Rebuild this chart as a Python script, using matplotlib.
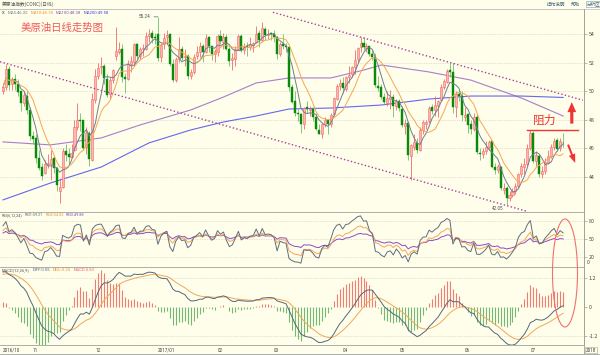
import numpy as np
import pandas as pd
import matplotlib
matplotlib.use('Agg')
import matplotlib.pyplot as plt
from matplotlib.patches import Ellipse

plt.rcParams['font.family'] = ['Noto Sans CJK SC', 'DejaVu Sans']

# ---------------- data (daily candles, Oct 2016 - Jul 2017) ----------------
month_labels = ['2016/10', '11', '12', '2017/01', '02', '03', '04', '05', '06', '07']
month_counts = [10, 21, 21, 20, 19, 23, 19, 22, 22, 12]

open_ = [50.0, 50.3, 51.6, 50.5, 50.9, 50.5, 50.0, 49.2, 49.7, 48.7,
         46.9, 46.7, 45.3, 44.7, 44.3, 44.9, 44.9, 45.3, 44.6, 43.0, 43.3, 45.8, 45.6, 45.4, 45.9, 47.5, 48.0, 48.0, 46.1, 47.1, 45.2,
         49.4, 51.1, 51.7, 51.8, 50.9, 49.8, 50.8, 52.5, 52.8, 53.0, 51.0, 50.9, 51.9, 52.1, 53.3, 52.5, 53.0, 53.0, 53.9, 54.1, 53.8,
         54.0, 52.4, 53.3, 53.8, 54.0, 51.9, 50.8, 52.3, 53.0, 52.4, 52.5, 51.1, 51.4, 52.5, 52.8, 53.2, 52.8, 53.8, 53.2, 52.6,
         52.8, 53.9, 53.5, 53.8, 53.0, 52.2, 52.3, 53.0, 53.9, 52.9, 53.2, 53.1, 53.25, 53.5, 54.1, 53.6, 54.4, 53.95, 54.1,
         54.0, 53.8, 52.6, 53.3, 53.2, 53.1, 50.3, 49.3, 48.5, 48.4, 47.7, 48.9, 48.7, 48.8, 48.2, 47.3, 47.0, 47.7, 48.0, 47.7, 48.4, 49.5, 50.4,
         50.6, 50.2, 51.0, 51.2, 51.7, 52.3, 53.1, 53.4, 53.05, 53.2, 52.6, 52.4, 50.4, 50.3, 49.6, 49.2, 49.5, 49.6, 49.0,
         49.3, 48.8, 47.6, 47.8, 45.5, 46.1, 46.4, 45.9, 47.3, 47.7, 47.9, 48.9, 48.7, 49.0, 49.4, 50.3, 50.7, 51.5, 51.4, 48.9, 49.8, 49.7,
         48.2, 48.4, 47.7, 47.4, 48.2, 45.7, 45.6, 45.8, 46.1, 46.5, 44.7, 44.5, 44.7, 43.1, 43.2, 42.5, 42.7, 43.0, 43.4, 44.2, 44.7, 44.9,
         46.0, 47.1, 45.1, 45.5, 44.2, 44.4, 45.0, 45.5, 46.1, 46.6, 46.0, 46.4]
high = [50.6, 51.9, 51.8, 51.0, 51.2, 50.9, 50.0, 50.0, 50.0, 48.9,
        47.2, 47.0, 45.9, 45.0, 45.2, 45.6, 45.9, 45.5, 44.7, 43.9, 46.0, 46.3, 46.0, 46.3, 48.0, 49.2, 48.5, 48.0, 47.5, 47.2, 49.9,
        51.6, 52.0, 52.4, 51.9, 51.2, 51.0, 51.6, 54.5, 53.5, 53.3, 51.3, 52.2, 52.5, 53.4, 53.4, 53.1, 53.3, 54.2, 54.4, 54.3, 54.1,
        55.24, 53.4, 54.1, 54.3, 54.0, 52.3, 52.4, 53.8, 53.2, 53.0, 52.6, 51.6, 52.6, 53.2, 53.5, 53.3, 54.0, 53.9, 53.2, 53.0,
        54.0, 54.3, 54.1, 54.0, 53.1, 52.7, 53.2, 54.0, 54.0, 53.4, 53.5, 53.8, 53.5, 54.6, 54.3, 54.9, 54.5, 54.4, 54.2,
        54.3, 53.9, 53.5, 54.0, 53.4, 53.2, 50.5, 50.0, 48.8, 48.5, 48.9, 49.3, 49.0, 48.9, 48.5, 47.7, 47.8, 48.2, 48.0, 48.5, 49.6, 50.5, 50.9,
        51.0, 51.1, 51.8, 51.8, 52.9, 53.1, 53.8, 53.8, 53.4, 53.2, 52.9, 52.7, 51.1, 50.5, 49.9, 50.0, 50.1, 49.8, 49.5,
        49.5, 49.0, 48.1, 47.9, 46.3, 47.0, 46.7, 47.5, 48.0, 48.0, 49.0, 49.1, 49.7, 49.4, 50.5, 50.9, 51.6, 52.0, 52.0, 50.0, 50.1, 50.0,
        48.9, 48.5, 48.0, 48.5, 48.4, 46.0, 46.0, 46.5, 46.6, 46.5, 45.0, 44.9, 44.8, 43.6, 43.4, 43.0, 43.2, 43.6, 44.3, 45.0, 45.3, 46.3,
        47.3, 47.2, 45.8, 45.6, 44.8, 45.3, 45.9, 46.3, 46.7, 46.7, 46.7, 47.1]
low = [49.8, 50.1, 50.1, 50.1, 50.1, 49.7, 48.6, 49.0, 48.4, 46.6,
       46.3, 45.0, 44.5, 43.8, 44.2, 44.6, 43.8, 44.3, 43.0, 42.2, 43.2, 45.1, 44.9, 45.3, 45.8, 47.3, 47.2, 45.9, 45.6, 44.8, 45.1,
       49.2, 50.9, 51.2, 50.5, 49.6, 49.5, 50.6, 52.2, 52.6, 50.7, 49.9, 50.8, 51.4, 51.8, 52.3, 52.3, 52.5, 52.9, 53.5, 53.4, 53.3,
       52.11, 52.1, 53.0, 53.3, 51.8, 50.7, 50.7, 52.1, 52.2, 51.8, 50.9, 50.9, 51.2, 52.3, 52.4, 52.1, 52.7, 52.8, 52.2, 52.1,
       52.5, 53.3, 53.0, 52.9, 51.8, 51.5, 51.8, 52.9, 52.8, 52.6, 52.5, 52.9, 52.8, 53.4, 53.1, 53.5, 53.6, 53.7, 53.6,
       53.5, 52.3, 52.5, 53.0, 52.8, 50.0, 49.2, 48.3, 47.9, 47.1, 47.4, 48.5, 48.3, 47.9, 47.3, 47.0, 46.7, 47.5, 47.0, 47.5, 48.3, 49.4, 50.1,
       49.9, 50.0, 50.6, 51.0, 51.2, 52.1, 52.8, 52.9, 52.8, 52.5, 52.2, 50.3, 50.0, 49.5, 49.1, 49.0, 48.8, 48.2, 48.7,
       48.6, 47.5, 47.0, 45.2, 43.8, 45.9, 45.7, 45.8, 47.0, 47.4, 47.8, 48.4, 48.3, 48.2, 49.3, 50.2, 50.6, 51.0, 48.5, 48.2, 49.3, 47.9,
       47.9, 47.1, 47.0, 47.2, 45.6, 45.2, 45.3, 45.6, 45.9, 44.6, 44.2, 44.3, 43.1, 42.8, 42.05, 42.3, 42.6, 42.8, 43.2, 44.0, 44.2, 44.8,
       45.9, 45.0, 44.8, 44.0, 43.9, 44.2, 44.9, 45.3, 45.9, 45.8, 45.8, 46.1]
close = [50.29, 51.60, 50.43, 50.85, 50.52, 49.96, 49.18, 49.72, 48.70, 46.86,
         46.67, 45.34, 44.66, 44.07, 44.89, 44.98, 45.27, 44.66, 43.41, 43.32, 45.81, 45.57, 45.42, 45.69, 47.49, 48.03, 47.96, 46.06, 47.08, 45.23, 49.44,
         51.06, 51.68, 51.79, 50.93, 49.77, 50.84, 51.50, 52.83, 52.98, 51.04, 50.90, 51.90, 52.12, 53.30, 52.49, 52.95, 53.02, 53.90, 54.06, 53.77, 53.72,
         52.33, 53.26, 53.76, 53.99, 51.96, 50.82, 52.25, 53.01, 52.37, 52.48, 51.08, 51.37, 52.42, 52.75, 53.18, 52.75, 53.78, 53.17, 52.63, 52.81,
         53.88, 53.54, 53.83, 53.01, 52.17, 52.34, 53.00, 53.86, 52.93, 53.20, 53.11, 53.36, 53.40, 54.06, 53.59, 54.45, 53.99, 54.05, 54.01,
         53.83, 52.61, 53.33, 53.20, 53.14, 50.28, 49.28, 48.49, 48.40, 47.72, 48.86, 48.75, 48.78, 48.22, 47.34, 47.04, 47.70, 47.97, 47.73, 48.37, 49.51, 50.35, 50.60,
         50.24, 51.03, 51.15, 51.70, 52.24, 53.08, 53.40, 53.11, 53.18, 52.65, 52.41, 50.44, 50.27, 49.62, 49.23, 49.56, 49.62, 48.97, 49.33,
         48.84, 47.66, 47.82, 45.52, 46.22, 46.43, 45.88, 47.33, 47.83, 47.84, 48.85, 48.66, 49.07, 49.35, 50.33, 50.73, 51.47, 51.36, 48.90, 49.80, 49.66, 48.32,
         48.36, 47.66, 47.40, 48.19, 45.72, 45.64, 45.83, 46.08, 46.46, 44.73, 44.46, 44.74, 43.20, 43.23, 42.53, 42.74, 43.01, 43.38, 44.24, 44.74, 44.93, 46.04,
         47.07, 45.13, 45.52, 44.23, 44.40, 45.04, 45.50, 46.10, 46.55, 45.95, 46.55, 46.35]

# long moving averages (candle index, value)
ma100_idx = [0, 16, 33, 46, 63, 74, 85, 96, 110, 121, 127, 143, 157, 174, 188]
ma100_val = [46.46, 46.25, 46.74, 47.65, 48.70, 49.61, 50.60, 50.95, 50.95, 51.50, 51.86, 51.37, 50.80, 49.54, 48.28]
ma200_idx = [0, 16, 33, 49, 63, 74, 85, 96, 110, 127, 143, 157, 174, 188]
ma200_val = [42.39, 43.58, 44.70, 46.39, 47.30, 47.86, 48.28, 48.77, 48.84, 49.05, 49.47, 49.68, 49.68, 49.58]

# channel lines (candle index, price)
chan_low_idx = [-1.0, 175.8]
chan_low_val = [52.09, 41.59]
chan_up_idx = [90.6, 194.6]
chan_up_val = [55.56, 49.39]

resist_level = 47.33
rsi_seed = [72, 64, 60]
macd_seed = (50.2, 48.75, 1.35)  # ema12, ema26, dea at the first candle

# header readouts as printed on the chart
ma_header = [('MA5', '46.32'), ('MA10', '45.78'), ('MA100', '48.28'), ('MA200', '49.58')]
rsi_header = [('RSI1', '59.21'), ('RSI2', '54.82'), ('RSI3', '49.88')]
macd_header = [('DIFF', '0.05'), ('DEA', '-0.20'), ('MACD', '0.50')]

# ---------------- indicators ----------------
o = np.array(open_); h = np.array(high); l = np.array(low); c = np.array(close)
n = len(c)
idx = np.arange(n)
s = pd.Series(c)
ma5 = s.rolling(5, min_periods=1).mean().values
ma10 = s.rolling(10, min_periods=1).mean().values


def rsi_cn(cc, N, seed, seed_abs=0.8):
    up = seed / 100 * seed_abs
    ab = seed_abs
    out = [seed]
    for k in range(1, len(cc)):
        d = cc[k] - cc[k - 1]
        up = (max(d, 0) + (N - 1) * up) / N
        ab = (abs(d) + (N - 1) * ab) / N
        out.append(100 * up / ab if ab > 0 else 50)
    return np.array(out)


rsi1 = rsi_cn(c, 6, rsi_seed[0])
rsi2 = rsi_cn(c, 12, rsi_seed[1])
rsi3 = rsi_cn(c, 24, rsi_seed[2])

e12, e26, dea = macd_seed
diffs, deas = [e12 - e26], [dea]
for k in range(1, n):
    e12 = (2 * c[k] + 11 * e12) / 13
    e26 = (2 * c[k] + 25 * e26) / 27
    d = e12 - e26
    dea = (2 * d + 8 * dea) / 10
    diffs.append(d); deas.append(dea)
diff = np.array(diffs); dea_a = np.array(deas)
macd_bar = 2 * (diff - dea_a)

# ---------------- figure ----------------
W, H = 600, 355
BG = '#FEFEEA'
GRID = '#CACABA'
SPINE = '#A0A0A0'
C_MA5 = '#6F7F8F'
C_MA10 = '#F5A656'
C_MA100 = '#A97DCB'
C_MA200 = '#6666F2'
C_UP_F = '#FFB4AE'
C_UP_E = '#F06A6A'
C_DN = '#0A8A0A'
C_DN_W = '#6CBF6C'
RED = '#F03434'
SMALL = ['Roboto', 'DejaVu Sans']

fig = plt.figure(figsize=(6, 3.55), dpi=100)
fig.patch.set_facecolor(BG)
renderer = fig.canvas.get_renderer()


def ax_px(x0, y0, x1, y1):
    a = fig.add_axes([x0 / W, 1 - y1 / H, (x1 - x0) / W, (y1 - y0) / H])
    a.set_facecolor(BG)
    for sp in a.spines.values():
        sp.set_color(SPINE); sp.set_linewidth(0.6)
    a.spines['left'].set_visible(False)
    a.set_xlim(-1, 195)
    a.set_xticks([])
    a.yaxis.tick_right()
    a.tick_params(axis='y', length=2, width=0.5, color=SPINE, labelsize=3.8, pad=1.5, labelcolor='#444444')
    return a


def ftext(x, y, s_, **kw):
    kw.setdefault('fontsize', 3.6)
    kw.setdefault('va', 'center')
    kw.setdefault('ha', 'left')
    return fig.text(x / W, 1 - y / H, s_, **kw)


def run_text(x, y, pieces, fontsize=3.0, gap=2.5):
    """Draw coloured pieces one after another, measuring each."""
    for txt, col in pieces:
        t = ftext(x, y, txt, color=col, fontsize=fontsize, family=SMALL)
        bb = t.get_window_extent(renderer=renderer)
        x += bb.width + gap


# ---- main price panel ----
ax = ax_px(0, 9, 584, 212)
ax.set_ylim(41.54, 55.79)
price_ticks = [44, 46, 48, 50, 52, 54]
ax.set_yticks(price_ticks)
ax.set_yticklabels([str(t) for t in price_ticks])
for p in price_ticks:
    ax.axhline(p, color=GRID, lw=0.5, ls=(0, (1, 1.5)), zorder=0)

up = c >= o
dn = ~up
ax.vlines(idx[up], l[up], h[up], color=C_UP_E, lw=0.6, zorder=2)
ax.vlines(idx[dn], l[dn], h[dn], color=C_DN_W, lw=0.6, zorder=2)
bh = np.maximum(np.abs(c - o), 0.04)
ax.bar(idx[up], bh[up], bottom=np.minimum(o, c)[up], width=0.68, color=C_UP_F,
       edgecolor=C_UP_E, linewidth=0.4, zorder=3)
ax.bar(idx[dn], bh[dn], bottom=np.minimum(o, c)[dn], width=0.68, color=C_DN,
       edgecolor=C_DN, linewidth=0.3, zorder=3)

ax.plot(idx, ma5, color=C_MA5, lw=0.7, zorder=4)
ax.plot(idx, ma10, color=C_MA10, lw=0.7, zorder=4)
ax.plot(ma100_idx, ma100_val, color=C_MA100, lw=0.8, zorder=1)
ax.plot(ma200_idx, ma200_val, color=C_MA200, lw=0.8, zorder=1)

ax.plot(chan_low_idx, chan_low_val, color='#A8409E', lw=1.0, ls=(0, (1, 1.6)), zorder=5)
ax.plot(chan_up_idx, chan_up_val, color='#A8409E', lw=1.0, ls=(0, (1, 1.6)), zorder=5)

# high / low marks
i_hi = int(np.argmax(h)); i_lo = int(np.argmin(l))
ax.annotate(f'{h[i_hi]:.2f}', xy=(i_hi, h[i_hi]), xytext=(i_hi - 2.5, h[i_hi]),
            fontsize=3.3, color='#445566', va='center', ha='right', family=SMALL,
            arrowprops=dict(arrowstyle='-', color='#556677', lw=0.5, shrinkA=0.5, shrinkB=0))
ax.text(i_lo - 1.0, l[i_lo] - 0.12, f'{l[i_lo]:.2f}', fontsize=3.3, color='#445566',
        va='top', ha='right', family=SMALL)

# red annotations
ax.plot([175.8, 193.0], [resist_level, resist_level], color=RED, lw=1.0, zorder=6)
ax.text(181.9, 47.95, '阻力', color=RED, fontsize=8.5, ha='center', va='center', zorder=6)
ax.annotate('', xy=(190.9, 49.45), xytext=(190.9, 47.55),
            arrowprops=dict(arrowstyle='simple,head_width=0.7,head_length=0.8,tail_width=0.25',
                            color=RED, lw=0, mutation_scale=9), zorder=6)
ax.annotate('', xy=(192.4, 44.8), xytext=(189.3, 46.45),
            arrowprops=dict(arrowstyle='simple,head_width=0.6,head_length=0.8,tail_width=0.18',
                            color=RED, lw=0, mutation_scale=8), zorder=6)
ax.text(6.0, 54.45, '美原油日线走势图', color='#F25A5A', fontsize=7.5, ha='left', va='center')

# ---- RSI panel ----
axr = ax_px(0, 212, 584, 267)
axr.set_ylim(3.3, 95)
axr.set_yticks([80, 50, 20])
axr.set_yticklabels(['80', '50', '20'])
for v in [80, 50, 20]:
    axr.axhline(v, color=GRID, lw=0.5, ls=(0, (1, 1.5)), zorder=0)
axr.plot(idx, rsi3, color='#8A4CC8', lw=0.7)
axr.plot(idx, rsi2, color='#F5A656', lw=0.7)
axr.plot(idx, rsi1, color='#5E6E80', lw=0.7)

# ---- MACD panel ----
axm = ax_px(0, 267, 584, 345)
axm.set_ylim(-1.57, 1.655)
axm.set_yticks([1.2, 0, -1.2])
axm.set_yticklabels(['1.2', '0', '-1.2'])
for v in [1.2, -1.2]:
    axm.axhline(v, color=GRID, lw=0.5, ls=(0, (1, 1.5)), zorder=0)
pos = macd_bar >= 0
axm.vlines(idx[pos], 0, macd_bar[pos], color='#F07C74', lw=0.8)
axm.vlines(idx[~pos], 0, macd_bar[~pos], color='#74B874', lw=0.8)
axm.plot(idx, dea_a, color='#F5A656', lw=0.7)
axm.plot(idx, diff, color='#56677A', lw=0.7)

# ellipse across the indicator panels
fig.add_artist(Ellipse((565 / W, 1 - 273 / H), 25 / W, 108 / H, transform=fig.transFigure,
                       fill=False, edgecolor='#F07070', lw=0.8, zorder=10))

# ---- headers ----
fig.add_artist(plt.Line2D([0, 1], [1 - 8.5 / H, 1 - 8.5 / H], transform=fig.transFigure,
                          color='#C8C8C8', lw=0.6))
ftext(2, 4, '美原油指数(CONC)(日线)', color='#555555', fontsize=3.4)
ftext(547, 4, '操作说明', color='#4A6A8A', fontsize=3.3)
ftext(571, 4, '帮助', color='#4A6A8A', fontsize=3.3)
ftext(587, 4, '分析区', color='#4A6A8A', fontsize=3.3,
      bbox=dict(boxstyle='square,pad=0.15', fc='none', ec='#7A9ABA', lw=0.4))

ma_cols = [C_MA5, '#F09030', '#8A50B8', '#4444EE']
run_text(2, 13, [('X', '#333333')] + [(f'{k}:{v}', col) for (k, v), col in zip(ma_header, ma_cols)],
         fontsize=3.1, gap=2.6)
rsi_cols = ['#5E6E80', '#F09030', '#8A4CC8']
run_text(2, 215, [('RSI(6,12,24)', '#555555')] + [(f'{k}:{v}', col) for (k, v), col in zip(rsi_header, rsi_cols)],
         fontsize=2.8, gap=2.0)
macd_cols = ['#56677A', '#F09030', '#F06060']
run_text(2, 270, [('MACD(12,26,9)', '#555555')] + [(f'{k}:{v}', col) for (k, v), col in zip(macd_header, macd_cols)],
         fontsize=3.0, gap=2.6)
ftext(587, 262, '0', color='#444444', fontsize=3.8)

# ---- date axis ----
starts = np.cumsum([0] + month_counts[:-1])
for lab, st in zip(month_labels, starts):
    xpx = 3 + st * 2.98
    ftext(xpx, 350, lab, color='#444444', fontsize=3.3, family=SMALL)
fig.add_artist(plt.Line2D([584 / W, 584 / W], [0, 1 - 9 / H], transform=fig.transFigure,
                          color=SPINE, lw=0.6))
fig.add_artist(plt.Line2D([0, 1], [1 / H, 1 / H], transform=fig.transFigure, color=SPINE, lw=0.6))
ftext(586, 350, '2018', color='#444444', fontsize=3.3, family=SMALL,
      bbox=dict(boxstyle='square,pad=0.15', fc='none', ec=SPINE, lw=0.4))

fig.savefig('out.png', dpi=100, facecolor=BG)
